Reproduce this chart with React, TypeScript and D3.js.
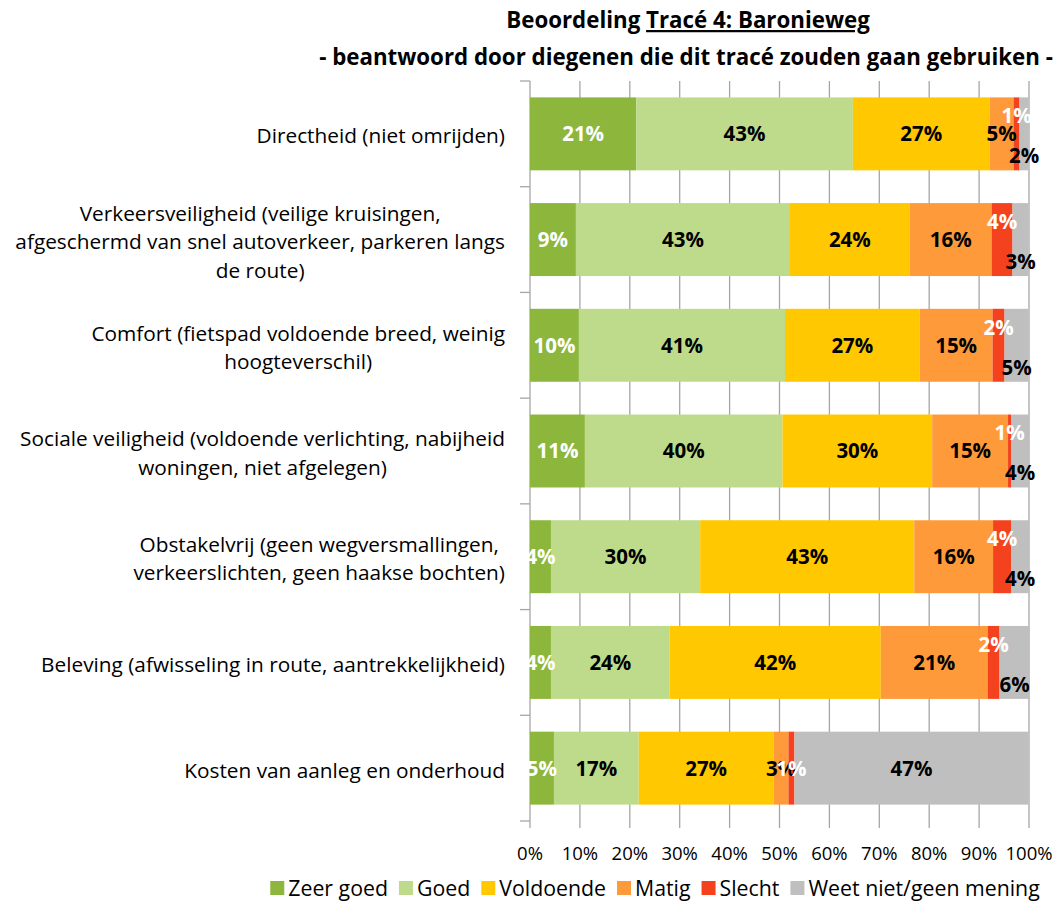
import React, { useEffect, useRef } from "react";
import * as d3 from "d3";

const categories: string[][] = [
  ["Directheid (niet omrijden)"],
  ["Verkeersveiligheid (veilige kruisingen,", "afgeschermd van snel autoverkeer, parkeren langs", "de route)"],
  ["Comfort (fietspad voldoende breed, weinig", "hoogteverschil)"],
  ["Sociale veiligheid (voldoende verlichting, nabijheid", "woningen, niet afgelegen)"],
  ["Obstakelvrij (geen wegversmallingen,", "verkeerslichten, geen haakse bochten)"],
  ["Beleving (afwisseling in route, aantrekkelijkheid)"],
  ["Kosten van aanleg en onderhoud"],
];

const seriesNames = ["Zeer goed", "Goed", "Voldoende", "Matig", "Slecht", "Weet niet/geen mening"];

const zeerGoed = [21.3, 9.2, 9.8, 11.0, 4.2, 4.2, 4.8];
const goed = [43.4, 42.9, 41.3, 39.6, 29.9, 23.8, 17.0];
const voldoende = [27.4, 24.0, 27.0, 30.0, 42.9, 42.3, 27.0];
const matig = [4.8, 16.4, 14.6, 15.2, 15.8, 21.4, 3.0];
const slecht = [1.2, 4.2, 2.4, 0.6, 3.6, 2.4, 1.2];
const weetNiet = [1.8, 3.2, 4.8, 3.6, 3.6, 6.0, 46.9];

const xTicks = [0, 10, 20, 30, 40, 50, 60, 70, 80, 90, 100];

const colors = ["#8CB63C", "#BDDB8A", "#FFC800", "#FF9A3A", "#F5421E", "#BFBFBF"];
const FONT = "'Open Sans', Lato, sans-serif";

export default function App() {
  const ref = useRef<SVGSVGElement | null>(null);

  useEffect(() => {
    const svg = d3.select(ref.current);
    svg.selectAll("*").remove();

    const left = 530, right = 1029, top = 81, bottom = 821;
    const x = d3.scaleLinear().domain([0, 100]).range([left, right]);
    const y = d3.scaleBand<number>().domain(d3.range(categories.length)).range([top, bottom]).paddingInner(0.31).paddingOuter(0.155);
    const yOuter = d3.scaleBand<number>().domain(d3.range(categories.length)).range([top, bottom]);

    const series = [zeerGoed, goed, voldoende, matig, slecht, weetNiet];
    const rows = categories.map((_, i) => {
      const o: any = { idx: i };
      seriesNames.forEach((s, k) => (o[s] = series[k][i]));
      return o;
    });
    const stacked = d3.stack<any>().keys(seriesNames)(rows);

    // gridlines
    svg.append("g").selectAll("line").data(xTicks.slice(1)).join("line")
      .attr("x1", (d) => x(d)).attr("x2", (d) => x(d))
      .attr("y1", top).attr("y2", bottom + 7)
      .attr("stroke", "#A6A6A6").attr("stroke-width", 1.3);
    svg.append("line").attr("x1", left).attr("x2", left).attr("y1", top).attr("y2", bottom + 7)
      .attr("stroke", "#A6A6A6").attr("stroke-width", 1.3);
    // category ticks
    const bounds = d3.range(categories.length + 1).map((i) => (i < categories.length ? yOuter(i)! : bottom));
    svg.append("g").selectAll("line").data(bounds).join("line")
      .attr("x1", left - 10).attr("x2", left)
      .attr("y1", (d) => d).attr("y2", (d) => d)
      .attr("stroke", "#A6A6A6").attr("stroke-width", 1.3);

    // bars
    const gBars = svg.append("g");
    stacked.forEach((layer, k) => {
      gBars.append("g").selectAll("rect").data(layer).join("rect")
        .attr("x", (d) => x(d[0]))
        .attr("width", (d) => x(d[1]) - x(d[0]))
        .attr("y", (d, i) => y(i)!)
        .attr("height", y.bandwidth())
        .attr("fill", colors[k]);
    });

    // labels
    const gLab = svg.append("g");
    stacked.forEach((layer, k) => {
      layer.forEach((d, i) => {
        const v = d[1] - d[0];
        const cy = y(i)! + y.bandwidth() / 2;
        let dy = 0;
        const smallTail = weetNiet[i] < 10;
        if (k === 4 && smallTail) dy = -18;
        if (k === 5 && smallTail) dy = 22;
        gLab.append("text")
          .attr("x", (x(d[0]) + x(d[1])) / 2)
          .attr("y", cy + dy)
          .attr("dy", "0.36em")
          .attr("text-anchor", "middle")
          .attr("font-family", FONT)
          .attr("font-weight", "bold")
          .attr("font-size", 20.5)
          .attr("fill", k === 0 || k === 4 ? "#FFFFFF" : "#000000")
          .text(`${Math.round(v)}%`);
      });
    });

    // category labels
    const lh = 28.5;
    categories.forEach((lines, i) => {
      const cy = yOuter(i)! + yOuter.bandwidth() / 2 + 2;
      const g = svg.append("g");
      const texts = lines.map((l, j) =>
        g.append("text")
          .attr("y", cy + (j - (lines.length - 1) / 2) * lh)
          .attr("dy", "0.36em")
          .attr("text-anchor", "middle")
          .attr("font-family", FONT)
          .attr("font-size", 20.8)
          .attr("fill", "#000")
          .text(l)
      );
      const widths = texts.map((t) => (t.node() as SVGTextElement).getComputedTextLength());
      const maxW = d3.max(widths) || 0;
      texts.forEach((t) => t.attr("x", 505 - maxW / 2));
    });

    // x tick labels
    svg.append("g").selectAll("text").data(xTicks).join("text")
      .attr("x", (d) => x(d)).attr("y", 853).attr("dy", "0.36em")
      .attr("text-anchor", "middle")
      .attr("font-family", FONT).attr("font-size", 18.5).attr("fill", "#000")
      .text((d) => `${d}%`);

    // title
    const t1 = svg.append("text").attr("x", 688).attr("y", 20).attr("dy", "0.36em")
      .attr("text-anchor", "middle").attr("font-family", FONT).attr("font-weight", "bold").attr("font-size", 22.3);
    t1.append("tspan").text("Beoordeling ");
    t1.append("tspan").attr("text-decoration", "underline").text("Tracé 4: Baronieweg");
    svg.append("text").attr("x", 686).attr("y", 57).attr("dy", "0.36em")
      .attr("text-anchor", "middle").attr("font-family", FONT).attr("font-weight", "bold").attr("font-size", 22.3)
      .text("- beantwoord door diegenen die dit tracé zouden gaan gebruiken -");

    // legend
    const lg = svg.append("g");
    let lx = 0;
    const items: { g: any; w: number }[] = [];
    seriesNames.forEach((s, k) => {
      const g = lg.append("g");
      g.append("rect").attr("x", 0).attr("y", -7).attr("width", 14).attr("height", 14).attr("fill", colors[k]);
      const t = g.append("text").attr("x", 18).attr("y", 0).attr("dy", "0.36em")
        .attr("font-family", FONT).attr("font-size", 21.3).attr("fill", "#000").text(s);
      const w = 18 + (t.node() as SVGTextElement).getComputedTextLength();
      items.push({ g, w });
    });
    const gap = 11;
    const total = d3.sum(items, (d) => d.w) + gap * (items.length - 1);
    lx = 655 - total / 2;
    items.forEach((it) => {
      it.g.attr("transform", `translate(${lx},888)`);
      lx += it.w + gap;
    });
  }, []);

  return (
    <svg
      ref={ref}
      width={1058}
      height={901}
      style={{ position: "absolute", left: 0, top: 0, background: "#fff" }}
    />
  );
}
